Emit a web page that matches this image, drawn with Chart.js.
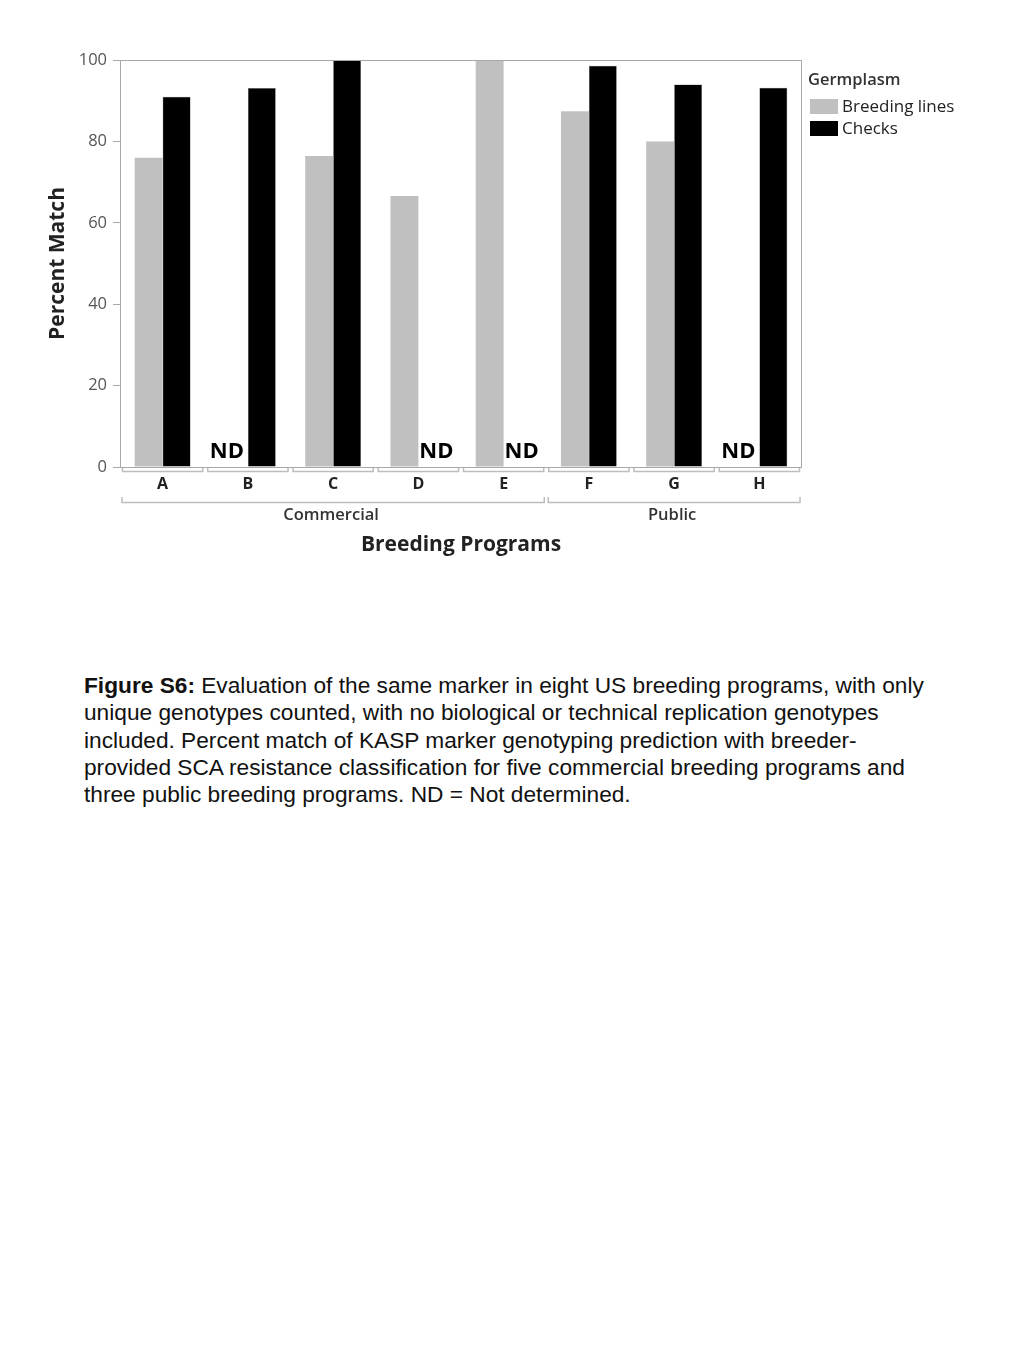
<!DOCTYPE html>
<html>
<head>
<meta charset="utf-8">
<script src="https://cdn.jsdelivr.net/npm/chart.js@4/dist/chart.umd.min.js"></script>
<style>
  body { margin: 0; background: #fff; width: 1024px; height: 1365px; position: relative; }
  #wrap { position: absolute; left: 0; top: 0; width: 1024px; height: 600px; }
  #caption { position: absolute; left: 84px; top: 672px; width: 900px; font-family: "Liberation Sans", Arial, sans-serif;
             font-size: 22.7px; line-height: 27.3px; color: #111; }
</style>
</head>
<body>
<div id="wrap"><canvas id="chart" width="1024" height="600"></canvas></div>
<div id="caption"><b>Figure S6:</b> Evaluation of the same marker in eight US breeding programs, with only<br>unique genotypes counted, with no biological or technical replication genotypes<br>included. Percent match of KASP marker genotyping prediction with breeder-<br>provided SCA resistance classification for five commercial breeding programs and<br>three public breeding programs. ND = Not determined.</div>
<script>
// Daten
var programs = ["A", "B", "C", "D", "E", "F", "G", "H"];
var groups = [{ name: "Commercial", from: 0, to: 4 }, { name: "Public", from: 5, to: 7 }];
var breedingLines = [76, null, 76.4, 66.6, 100, 87.4, 80, null];
var checks = [91, 93.1, 100, null, null, 98.6, 94, 93.2];
var yTicks = [0, 20, 40, 60, 80, 100];

var chartFont = "'Open Sans', 'Noto Sans', sans-serif";

// Rahmen, Klammern, ND-Beschriftung und Legende
var extras = {
  id: "extras",
  afterDatasetsDraw: function(c) {
    var ctx = c.ctx;
    var a = c.chartArea;
    var x = c.scales.x;
    var step = x.getPixelForValue(1) - x.getPixelForValue(0);
    ctx.save();

    // Rahmen
    ctx.strokeStyle = "#a8a8a8";
    ctx.lineWidth = 1;
    ctx.strokeRect(a.left + 0.5, a.top + 0.5, a.right - a.left - 1, a.bottom - a.top);

    // ND fuer fehlende Werte
    ctx.fillStyle = "#000";
    ctx.font = "bold 22px " + chartFont;
    ctx.textAlign = "center";
    ctx.textBaseline = "alphabetic";
    c.data.datasets.forEach(function(ds, d) {
      var meta = c.getDatasetMeta(d);
      ds.data.forEach(function(v, i) {
        if (v === null) {
          var bx = meta.data[i] && isFinite(meta.data[i].x) ? meta.data[i].x : x.getPixelForValue(i) + (d - 0.5) * step * 0.33;
          ctx.fillText("ND", bx + (d === 0 ? -7 : 4), a.bottom - 9);
        }
      });
    });

    // Klammern unter jeder Kategorie
    ctx.strokeStyle = "#bdbdbd";
    ctx.lineWidth = 1.5;
    programs.forEach(function(p, i) {
      var l = x.getPixelForValue(i) - step / 2 + 2.5;
      var r = x.getPixelForValue(i) + step / 2 - 2.5;
      ctx.beginPath();
      ctx.moveTo(l, a.bottom + 1);
      ctx.lineTo(l, a.bottom + 4.5);
      ctx.lineTo(r, a.bottom + 4.5);
      ctx.lineTo(r, a.bottom + 1);
      ctx.stroke();
    });

    // Gruppenklammern
    groups.forEach(function(g) {
      var l = x.getPixelForValue(g.from) - step / 2 + 2;
      var r = x.getPixelForValue(g.to) + step / 2 - 2;
      ctx.beginPath();
      ctx.moveTo(l, a.bottom + 30);
      ctx.lineTo(l, a.bottom + 35.5);
      ctx.lineTo(r, a.bottom + 35.5);
      ctx.lineTo(r, a.bottom + 30);
      ctx.stroke();
      ctx.fillStyle = "#333";
      ctx.font = "600 16.5px " + chartFont;
      ctx.textBaseline = "middle";
      ctx.fillText(g.name, (l + r) / 2 - 2, a.bottom + 48);
    });

    // Legende
    ctx.textAlign = "left";
    ctx.textBaseline = "middle";
    ctx.fillStyle = "#333";
    ctx.font = "600 16.5px " + chartFont;
    ctx.fillText("Germplasm", a.right + 6, 80);
    c.data.datasets.forEach(function(ds, d) {
      var y = 99 + d * 22;
      ctx.fillStyle = ds.backgroundColor;
      ctx.fillRect(a.right + 8, y, 28, 15);
      ctx.fillStyle = "#222";
      ctx.font = "17px " + chartFont;
      ctx.fillText(ds.label, a.right + 40, y + 8);
    });
    ctx.restore();
  }
};

var ctx = document.getElementById("chart").getContext("2d");
var chart = new Chart(ctx, {
  type: "bar",
  data: {
    labels: programs,
    datasets: [{
      label: "Breeding lines",
      data: breedingLines,
      backgroundColor: "#c0c0c0",
      borderWidth: 0
    }, {
      label: "Checks",
      data: checks,
      backgroundColor: "#000000",
      borderColor: "#777",
      borderWidth: 0.5
    }]
  },
  options: {
    responsive: false,
    animation: false,
    layout: { padding: { left: 0, right: 222, top: 60, bottom: 0 } },
    plugins: { legend: { display: false }, tooltip: { enabled: false } },
    datasets: { bar: { categoryPercentage: 0.655, barPercentage: 1 } },
    scales: {
      x: {
        grid: { display: false, drawTicks: false },
        border: { display: false },
        ticks: { color: "#222", font: { family: chartFont, size: 16, weight: "bold" }, padding: 8 },
        title: { display: true, text: "Breeding Programs", color: "#222",
                 font: { family: chartFont, size: 21, weight: "bold" }, padding: { top: 0, bottom: 42 } },
        afterFit: function(s) { s.height = 133; }
      },
      y: {
        min: 0,
        max: 100,
        afterBuildTicks: function(s) { s.ticks = yTicks.map(function(v) { return { value: v }; }); },
        grid: { drawOnChartArea: false, drawTicks: true, tickLength: 7, color: "#a8a8a8" },
        border: { display: false },
        ticks: { color: "#555", font: { family: chartFont, size: 16.5 }, padding: 6 },
        title: { display: true, text: "Percent Match", color: "#222",
                 font: { family: chartFont, size: 21, weight: "bold" }, padding: { top: 45, bottom: 0 } },
        afterFit: function(s) { s.width = 120; }
      }
    }
  },
  plugins: [extras]
});
</script>
</body>
</html>
